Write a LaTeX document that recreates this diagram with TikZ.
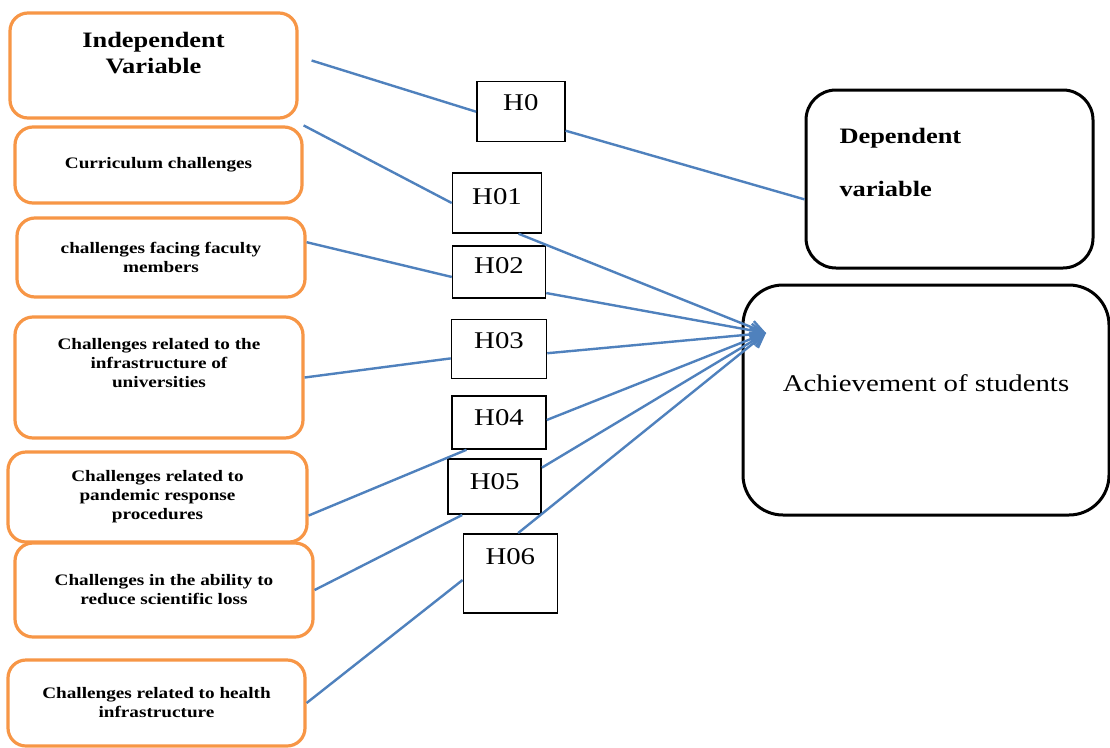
\documentclass[tikz,border=0pt]{standalone}
\usepackage{fontspec}
\setmainfont{Liberation Serif}[FakeStretch=1.2]
\usetikzlibrary{arrows.meta, calc}
\definecolor{ivOrange}{HTML}{F79646}
\definecolor{linkBlue}{HTML}{4F81BD}

\begin{document}
\begin{tikzpicture}[
  x=1pt, y=-1pt,
  >={Straight Barb[length=13pt, width=13pt]},
  every node/.style={inner sep=0pt},
  ivbox/.style={rectangle, rounded corners=18pt, draw=ivOrange, line width=3.2pt,
                fill=white, align=center,
                font=\bfseries\fontsize{16}{19}\selectfont},
  headbox/.style={ivbox, font=\bfseries\fontsize{22}{26}\selectfont},
  hypbox/.style={rectangle, draw=black, line width=1.5pt, fill=white,
                 font=\fontsize{24}{28}\selectfont},
  dvbox/.style={rectangle, rounded corners=30pt, draw=black, line width=3pt,
                fill=white},
  link/.style={draw=linkBlue, line width=2.4pt},
  effect/.style={link, ->},
]
\path[use as bounding box, fill=white] (0,0) rectangle (1110,747);

% ── Independent variables (left column) ────────────────────────────
\node[headbox, minimum width=287pt, minimum height=105pt] (indep)    at (153.5,65.5)
  {Independent\\Variable\\\rule{0pt}{12pt}};
\node[ivbox, minimum width=287pt, minimum height=76pt]    (curr)     at (158.5,165)
  {Curriculum challenges};
\node[ivbox, minimum width=288pt, minimum height=79pt]    (faculty)  at (161,257.5)
  {challenges facing faculty\\members};
\node[ivbox, minimum width=288pt, minimum height=121pt]   (infra)    at (159,377.5)
  {Challenges related to the\\infrastructure of\\universities\\\rule{0pt}{28pt}};
\node[ivbox, minimum width=299pt, minimum height=90pt]    (pandemic) at (157.5,497)
  {Challenges related to\\pandemic response\\procedures};
\node[ivbox, minimum width=298pt, minimum height=94pt]    (science)  at (164,590)
  {Challenges in the ability to\\reduce scientific loss};
\node[ivbox, minimum width=297pt, minimum height=86pt]    (health)   at (156.5,703)
  {Challenges related to health\\infrastructure};

% ── Hypotheses (middle column) ─────────────────────────────────────
\node[hypbox, minimum width=88pt, minimum height=60pt, text depth=18pt] (h0)  at (520.8,111.7) {H0};
\node[hypbox, minimum width=89pt, minimum height=60pt, text depth=13pt] (h01) at (497,203)     {H01};
\node[hypbox, minimum width=93pt, minimum height=52pt, text depth=12pt] (h02) at (499,272)     {H02};
\node[hypbox, minimum width=95pt, minimum height=59pt, text depth=16pt] (h03) at (499,349)     {H03};
\node[hypbox, minimum width=94pt, minimum height=53pt, text depth=10pt] (h04) at (499,422.5)   {H04};
\node[hypbox, minimum width=93pt, minimum height=55pt, text depth=10pt] (h05) at (494.7,486.7) {H05};
\node[hypbox, minimum width=94pt, minimum height=79pt, text depth=34pt] (h06) at (510.3,573.3) {H06};

% ── Dependent side (right column) ──────────────────────────────────
\node[dvbox, minimum width=287pt, minimum height=178pt, text width=220pt,
      align=left, font=\bfseries\fontsize{22}{26}\selectfont] (dep) at (949.5,179)
  {Dependent\\[27pt]variable\\\rule{0pt}{32pt}};
\node[dvbox, rounded corners=40pt, minimum width=366pt, minimum height=230pt,
      text depth=33pt, font=\fontsize{24}{28}\selectfont] (achv) at (926,400)
  {Achievement of students};

\coordinate (indepOut) at ($(indep.east)+(13,-5)$);
\coordinate (hub)      at (766,333);

% ── Links into the hypotheses ──────────────────────────────────────
\draw[link] (indepOut)         -- (h0.west);
\draw[link] (h0.-23)           -- (dep.188);
\draw[link] (curr.north east)  -- (h01.west);
\draw[link] (faculty.6)        -- (h02.186);
\draw[link] (infra.east)       -- (h03.191);
\draw[link] (pandemic.-7)      -- (h04.220);
\draw[link] (science.east)     -- (h05.221);
\draw[link] (health.east)      -- (h06.188);

% ── Effects on achievement (all meet at one tip) ───────────────────
\draw[effect] (h01.-55) -- (hub);
\draw[effect] (h02.-24) -- (hub);
\draw[effect] (h03.-5)  -- (hub);
\draw[effect] (h04.3)   -- (hub);
\draw[effect] (h05.22)  -- (hub);
\draw[effect] (h06.79)  -- (hub);

\end{tikzpicture}
\end{document}
